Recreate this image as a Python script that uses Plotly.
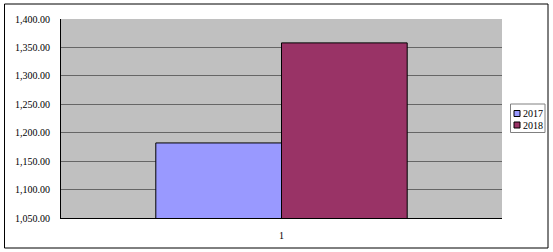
import plotly.graph_objects as go

categories = ["1"]
series_names = ["2017", "2018"]
values_2017 = [1182]
values_2018 = [1358]
colors = ["#9999FF", "#993366"]
y_ticks = [1050, 1100, 1150, 1200, 1250, 1300, 1350, 1400]
y_tick_labels = ["1,050.00", "1,100.00", "1,150.00", "1,200.00",
                 "1,250.00", "1,300.00", "1,350.00", "1,400.00"]

W, H = 553, 252
L, R, T, B = 61, 51, 19, 34
pw, ph = W - L - R, H - T - B


def px_x(x):
    return (x - L) / pw


def px_y(y):
    return (H - B - y) / ph


fig = go.Figure()
for name, vals, col in zip(series_names, [values_2017, values_2018], colors):
    fig.add_trace(go.Bar(
        x=categories, y=vals, name=name,
        marker=dict(color=col, line=dict(color="#000000", width=1)),
    ))

font = dict(family="Liberation Serif, DejaVu Serif, serif", size=10, color="#000000")

fig.update_layout(
    width=W, height=H,
    margin=dict(l=L, r=R, t=T, b=B, autoexpand=False),
    paper_bgcolor="#FFFFFF",
    plot_bgcolor="#C0C0C0",
    barmode="group",
    bargap=0.43,
    bargroupgap=0,
    font=font,
    showlegend=False,
    xaxis=dict(
        type="category", showgrid=False, showline=True, linecolor="#000000",
        linewidth=1, ticks="", ticklabelstandoff=8,
    ),
    yaxis=dict(
        range=[1050, 1400], tickvals=y_ticks, ticktext=y_tick_labels,
        showgrid=True, gridcolor="#666666", gridwidth=1.3,
        showline=True, linecolor="#000000", linewidth=1,
        ticks="", ticklabelstandoff=8, zeroline=False,
    ),
)

# outer chart border
fig.add_shape(
    type="rect", xref="paper", yref="paper",
    x0=px_x(4.5), x1=px_x(548), y0=px_y(248), y1=px_y(4),
    line=dict(color="#000000", width=1), layer="below",
)

# legend box
fig.add_shape(
    type="rect", xref="paper", yref="paper",
    x0=px_x(510.5), x1=px_x(545), y0=px_y(132.5), y1=px_y(104),
    line=dict(color="#808080", width=1), fillcolor="#FFFFFF",
)
for i, (name, col) in enumerate(zip(series_names, colors)):
    yc = 113.5 + i * 11.5
    fig.add_shape(
        type="rect", xref="paper", yref="paper",
        x0=px_x(514), x1=px_x(520), y0=px_y(yc + 3), y1=px_y(yc - 3),
        line=dict(color="#000000", width=1), fillcolor=col,
    )
    fig.add_annotation(
        x=px_x(521), y=px_y(yc), xref="paper", yref="paper",
        text=name, showarrow=False, xanchor="left", yanchor="middle",
        font=dict(family="Liberation Serif, DejaVu Serif, serif", size=10, color="#000000"),
    )

fig.write_html("out.html")
